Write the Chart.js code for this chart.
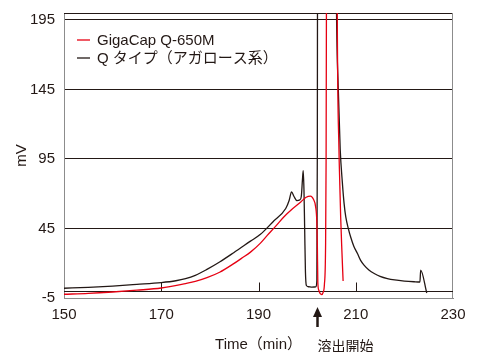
<!DOCTYPE html>
<html>
<head>
<meta charset="utf-8">
<script src="https://cdn.jsdelivr.net/npm/chart.js@4"></script>
<style>
  body { margin: 0; background: #fff; }
</style>
</head>
<body>
<canvas id="myChart" width="477" height="352"></canvas>
<script>
const xTicks = [150, 170, 190, 210, 230];
const yTicks = [-5, 45, 95, 145, 195];
const baseline = 0;

// GigaCap Q-650M (red)
const gigaCapTime = [150, 155, 160, 165, 170, 175, 177, 179.4, 182, 184.9, 186.5, 188.35, 190.4, 191.8, 193.5, 195.2, 197, 198.7, 199.8, 200.7, 201.3, 201.75, 202, 202.1, 202.2, 202.4, 202.7, 203, 203.3, 203.55, 203.8, 203.9, 204, 204.2, 205.2, 206, 206.2, 206.55, 206.7, 206.9, 207.15, 207.4];
const gigaCapMv = [-2.3, -1.7, -0.7, 0.6, 2.2, 5.4, 6.9, 9.6, 13.5, 19.7, 23.5, 28, 34.5, 40, 46.5, 53.3, 59.2, 64.1, 67.5, 68.3, 66, 60.6, 49.4, 33.8, 6.5, 0.6, -1.9, -2.5, -0.9, 4.5, 33.8, 92.4, 250, 450, 600, 450, 200, 101.4, 79.7, 53.3, 28.9, 7.2];

// Q タイプ（アガロース系） (black)
const qTypeTime = [150, 155, 160, 165, 170, 173, 175, 177, 179.4, 182, 184.9, 188.35, 190.4, 193, 195.6, 196.3, 196.8, 197.3, 197.9, 198.5, 198.8, 199.05, 199.2, 199.35, 199.5, 199.65, 199.85, 200.3, 201, 201.8, 202, 202.1, 202.2, 203.5, 205.5, 206.05, 206.4, 206.8, 207.25, 207.6, 207.95, 208.5, 208.97, 209.6, 210.35, 211, 211.7, 212.7, 213.8, 215, 216.5, 218, 220, 222, 223.2, 223.35, 224.6];
const qTypeMv = [2, 2.7, 3.6, 4.8, 6.1, 7.4, 8.9, 11.3, 15.6, 20.9, 27.6, 35.9, 40.8, 49.9, 59.4, 65.1, 71.3, 68, 65.1, 65.6, 68, 80.7, 86.6, 72.9, 43.6, 14.3, 4, 3.1, 2.8, 3, 7.4, 102, 400, 550, 500, 200, 146.2, 102.2, 77.8, 63.1, 53.3, 44.6, 38.7, 32.3, 27, 22.1, 18.7, 15.2, 12.6, 10.6, 9, 8, 7.2, 6.7, 6.5, 15, -1.4];

const elutionStart = 202;
const elutionText = "溶出開始";

const font = { family: '"Liberation Sans", Arial, "Noto Sans CJK JP", sans-serif', size: 15 };
const ink = "#231815";
const axisGray = "#8c8c8c";

function toPoints(xs, ys) {
  return xs.map((x, i) => ({ x, y: ys[i] }));
}

const framePlugin = {
  id: "frame",
  beforeDatasetsDraw(chart) {
    const { ctx, chartArea, scales } = chart;
    ctx.save();
    ctx.lineWidth = 1;
    ctx.strokeStyle = ink;
    ctx.beginPath();
    ctx.moveTo(chartArea.left, chartArea.top + 0.5);
    ctx.lineTo(chartArea.right, chartArea.top + 0.5);
    ctx.stroke();
    ctx.strokeStyle = axisGray;
    ctx.beginPath();
    ctx.moveTo(chartArea.right - 0.5, chartArea.top);
    ctx.lineTo(chartArea.right - 0.5, chartArea.bottom);
    ctx.stroke();
    // zero line with short ticks standing on it
    const base = Math.round(scales.y.getPixelForValue(baseline)) + 0.5;
    ctx.strokeStyle = ink;
    ctx.beginPath();
    ctx.moveTo(chartArea.left, base);
    ctx.lineTo(chartArea.right, base);
    ctx.stroke();
    xTicks.slice(1, -1).forEach((v) => {
      const px = Math.round(scales.x.getPixelForValue(v)) + 0.5;
      ctx.beginPath();
      ctx.moveTo(px, base);
      ctx.lineTo(px, base - 9);
      ctx.stroke();
    });
    ctx.restore();
  },
  afterDraw(chart) {
    const { ctx, chartArea, scales } = chart;
    ctx.save();
    // legend
    chart.data.datasets.forEach((ds, i) => {
      const y = chartArea.top + 27 + i * 18;
      ctx.strokeStyle = ds.borderColor;
      ctx.lineWidth = 1.3;
      ctx.beginPath();
      ctx.moveTo(chartArea.left + 13, y);
      ctx.lineTo(chartArea.left + 26, y);
      ctx.stroke();
      ctx.fillStyle = ink;
      ctx.font = `${font.size}px ${font.family}`;
      ctx.textBaseline = "middle";
      ctx.textAlign = "left";
      ctx.fillText(ds.label, chartArea.left + 33, y + 1);
    });
    // elution start arrow
    const ax = Math.round(scales.x.getPixelForValue(elutionStart)) + 0.5;
    ctx.fillStyle = ink;
    ctx.strokeStyle = ink;
    ctx.lineWidth = 2.5;
    ctx.beginPath();
    ctx.moveTo(ax, 314);
    ctx.lineTo(ax, 327);
    ctx.stroke();
    ctx.beginPath();
    ctx.moveTo(ax, 307);
    ctx.lineTo(ax - 4.5, 317);
    ctx.lineTo(ax + 4.5, 317);
    ctx.closePath();
    ctx.fill();
    ctx.font = `14px "Noto Sans CJK JP", sans-serif`;
    ctx.textAlign = "left";
    ctx.textBaseline = "middle";
    ctx.fillText(elutionText, ax, 346);
    ctx.restore();
  },
};

window.onload = function () {
  const ctx = document.getElementById("myChart");
  window.chart = new Chart(ctx, {
    type: "line",
    data: {
      datasets: [
        {
          label: "GigaCap Q-650M",
          data: toPoints(gigaCapTime, gigaCapMv),
          borderColor: "#e60012",
          borderWidth: 1.3,
          pointRadius: 0,
          cubicInterpolationMode: "monotone",
        },
        {
          label: "Q タイプ（アガロース系）",
          data: toPoints(qTypeTime, qTypeMv),
          borderColor: ink,
          borderWidth: 1.3,
          pointRadius: 0,
          cubicInterpolationMode: "monotone",
        },
      ],
    },
    options: {
      responsive: false,
      animation: false,
      layout: { padding: { top: 13, right: 24, bottom: 0, left: 0 } },
      plugins: {
        legend: { display: false },
        tooltip: { enabled: false },
      },
      scales: {
        x: {
          type: "linear",
          min: 150,
          max: 230,
          afterBuildTicks: (s) => {
            s.ticks = xTicks.map((v) => ({ value: v }));
          },
          afterFit: (s) => {
            s.height = 54;
          },
          grid: { display: false, drawTicks: false },
          border: { display: true, color: axisGray, width: 1 },
          ticks: { padding: 8, font, color: ink, maxRotation: 0 },
          title: { display: true, text: "Time（min）", font, color: ink, padding: { top: 0, bottom: -2 } },
        },
        y: {
          type: "linear",
          min: -5,
          max: 200,
          afterBuildTicks: (s) => {
            s.ticks = yTicks.map((v) => ({ value: v }));
          },
          afterFit: (s) => {
            s.width = 64;
            s.paddingTop = 0;
            s.paddingBottom = 0;
          },
          grid: { color: ink, lineWidth: 1, drawTicks: false },
          border: { display: true, color: axisGray, width: 1 },
          ticks: { padding: 9, font, color: ink },
          title: { display: true, text: "mV", font, color: ink, padding: { top: 13, bottom: 0 } },
        },
      },
    },
    plugins: [framePlugin],
  });
};
</script>
</body>
</html>
